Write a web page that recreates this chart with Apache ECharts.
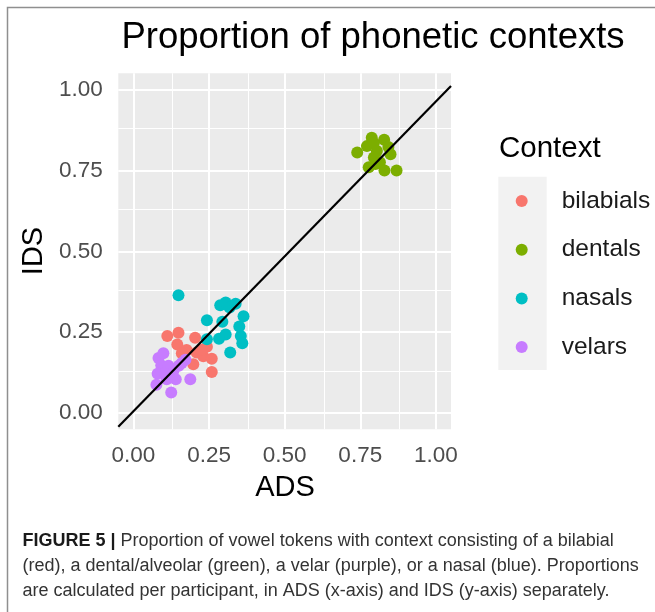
<!DOCTYPE html>
<html>
<head>
<meta charset="utf-8">
<script src="https://cdn.jsdelivr.net/npm/echarts@6/dist/echarts.min.js"></script>
<style>
html,body{margin:0;padding:0;background:#fff;}
#chart{width:655px;height:612px;}
</style>
</head>
<body>
<div id="chart"></div>
<script>
// ---- data (ADS = x, IDS = y) ----
const categories = ['bilabials', 'dentals', 'nasals', 'velars'];
const colors = ['#F8766D', '#7CAE00', '#00BFC4', '#C77CFF'];
const bilabials = [[0.112,0.238],[0.149,0.248],[0.145,0.212],[0.204,0.233],[0.176,0.195],[0.209,0.187],[0.243,0.205],[0.231,0.176],[0.259,0.168],[0.198,0.151],[0.259,0.127],[0.160,0.185],[0.225,0.195]];
const dentals = [[0.740,0.805],[0.772,0.825],[0.788,0.851],[0.795,0.835],[0.829,0.845],[0.843,0.822],[0.850,0.800],[0.805,0.810],[0.795,0.790],[0.778,0.760],[0.815,0.775],[0.830,0.750],[0.870,0.750],[0.800,0.770]];
const nasals = [[0.149,0.364],[0.287,0.333],[0.305,0.342],[0.318,0.326],[0.338,0.338],[0.364,0.299],[0.243,0.287],[0.294,0.282],[0.350,0.268],[0.305,0.243],[0.283,0.230],[0.243,0.228],[0.355,0.238],[0.360,0.216],[0.320,0.187]];
const velars = [[0.083,0.170],[0.099,0.185],[0.092,0.148],[0.080,0.122],[0.076,0.088],[0.110,0.105],[0.125,0.064],[0.132,0.130],[0.150,0.146],[0.172,0.165],[0.188,0.105],[0.140,0.105],[0.116,0.146],[0.105,0.122],[0.160,0.155]];
const refLine = [[-0.05,-0.042],[1.05,1.011]];
const tickValues = [0, 0.25, 0.5, 0.75, 1];
const minorValues = [0.125, 0.375, 0.625, 0.875];
const axisMin = -0.05, axisMax = 1.05;
const titleText = 'Proportion of phonetic contexts';
const xTitle = 'ADS', yTitle = 'IDS', legendTitle = 'Context';
const captionLines = [
  ['FIGURE 5 |', ' Proportion of vowel tokens with context consisting of a bilabial'],
  ['', '(red), a dental/alveolar (green), a velar (purple), or a nasal (blue). Proportions'],
  ['', 'are calculated per participant, in ADS (x-axis) and IDS (y-axis) separately.']
];

const seriesData = [bilabials, dentals, nasals, velars];
const FONT = '"Liberation Sans", Arial, Helvetica, sans-serif';

const chart = echarts.init(document.getElementById('chart'), null, {renderer: 'canvas'});

const gridLines = [];
tickValues.forEach(v => {
  gridLines.push({xAxis: v, lineStyle: {width: 2}});
  gridLines.push({yAxis: v, lineStyle: {width: 2}});
});
minorValues.forEach(v => {
  gridLines.push({xAxis: v, lineStyle: {width: 1}});
  gridLines.push({yAxis: v, lineStyle: {width: 1}});
});

const series = [{
  type: 'scatter', name: '_grid', data: [], z: 1, silent: true,
  markLine: {
    z: 1, silent: true, animation: false, symbol: ['none', 'none'],
    label: {show: false},
    lineStyle: {color: '#ffffff', type: 'solid', width: 1},
    emphasis: {disabled: true},
    data: gridLines
  }
}];
categories.forEach((c, i) => {
  series.push({
    type: 'scatter', name: c, data: seriesData[i], symbolSize: 12, z: 3,
    itemStyle: {color: colors[i], opacity: 1},
    emphasis: {disabled: true}
  });
});
series.push({
  type: 'line', name: '_line', data: refLine, symbol: 'none', z: 6,
  lineStyle: {color: '#000000', width: 2.2}, silent: true, clip: true
});

const axisCommon = {
  type: 'value', min: axisMin, max: axisMax,
  axisLine: {show: false},
  splitLine: {show: false},
  axisTick: {show: true, customValues: tickValues, length: 6, lineStyle: {color: '#333333', width: 2}},
  axisLabel: {customValues: tickValues, color: '#4D4D4D', fontSize: 22.5, fontFamily: FONT,
    formatter: v => v.toFixed(2)}
};

const graphics = [
  {type: 'rect', z: -10, silent: true, shape: {x: 7.5, y: 7.5, width: 700, height: 700},
   style: {fill: 'none', stroke: '#8f8f8f', lineWidth: 1.5}},
  {type: 'text', silent: true, x: 373, y: 38,
   style: {text: titleText, font: '36.5px ' + FONT, fill: '#000', align: 'center', verticalAlign: 'middle'}},
  {type: 'text', silent: true, x: 285, y: 488,
   style: {text: xTitle, font: '29px ' + FONT, fill: '#000', align: 'center', verticalAlign: 'middle'}},
  {type: 'text', silent: true, x: 34, y: 251, rotation: Math.PI / 2,
   style: {text: yTitle, font: '29px ' + FONT, fill: '#000', align: 'center', verticalAlign: 'middle'}},
  {type: 'text', silent: true, x: 499, y: 149,
   style: {text: legendTitle, font: '29.5px ' + FONT, fill: '#000', align: 'left', verticalAlign: 'middle'}},
  {type: 'rect', silent: true, z: -5, shape: {x: 498.3, y: 176.7, width: 48.4, height: 193.3},
   style: {fill: '#F2F2F2'}}
];
captionLines.forEach((ln, i) => {
  graphics.push({
    type: 'text', silent: true, x: 22.5, y: 541 + i * 25,
    style: {
      text: (ln[0] ? '{b|' + ln[0] + '}' : '') + ln[1],
      font: '18px ' + FONT, fill: '#333333', align: 'left', verticalAlign: 'middle',
      rich: {b: {fontWeight: 'bold', fontSize: 18, fontFamily: FONT, fill: '#1a1a1a'}}
    }
  });
});

chart.setOption({
  animation: false,
  backgroundColor: '#ffffff',
  grid: {left: 118.3, right: 204, top: 73.3, bottom: 182.7, show: true,
    backgroundColor: '#EBEBEB', borderWidth: 0, containLabel: false},
  xAxis: Object.assign({}, axisCommon, {axisLabel: Object.assign({}, axisCommon.axisLabel, {margin: 15})}),
  yAxis: Object.assign({}, axisCommon, {axisLabel: Object.assign({}, axisCommon.axisLabel, {margin: 15.5})}),
  legend: {
    data: categories, orient: 'vertical', left: 515.7, top: 176.65, padding: 0, itemGap: 0,
    icon: 'circle', itemWidth: 12, itemHeight: 12, selectedMode: false,
    textStyle: {fontSize: 24.5, fontFamily: FONT, color: '#1a1a1a', lineHeight: 48.7, padding: [0, 0, 0, 29]}
  },
  graphic: graphics,
  series: series
});
</script>
</body>
</html>
